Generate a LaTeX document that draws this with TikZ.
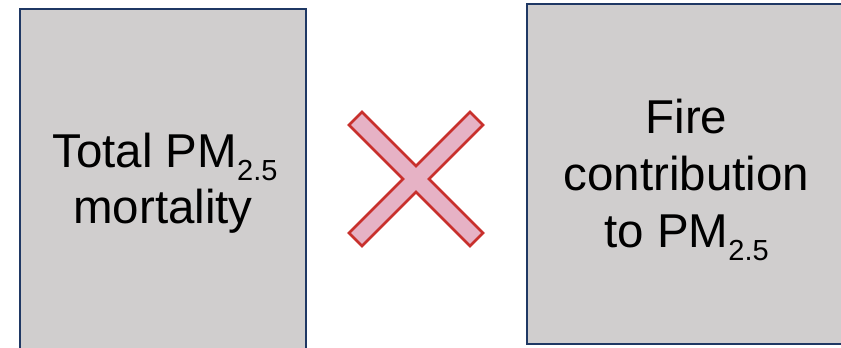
\documentclass[tikz,border=0pt]{standalone}
\usepackage{fontspec}
\setmainfont{Liberation Sans}
\definecolor{boxfill}{HTML}{D0CECE}
\definecolor{boxline}{HTML}{1F3864}
\definecolor{crossfill}{HTML}{E6B2C5}
\definecolor{crossline}{HTML}{C8302C}
% PM with a lowered, smaller "2.5"
\newcommand{\pmtwofive}{PM{\fontsize{29}{29}\selectfont\raisebox{-13pt}{2.5}}}
\begin{document}
\begin{tikzpicture}[x=1pt,y=-1pt,
  panel/.style={draw=boxline, line width=2.5pt, fill=boxfill, inner sep=0pt},
  txt/.style={anchor=base, inner sep=0pt, font=\fontsize{47.5}{57}\selectfont},
  crossmark/.style={draw=crossline, fill=crossfill, line width=2.5pt, line join=miter}]
\useasboundingbox (0,0) rectangle (841,348);
\clip (0,0) rectangle (841,348);
% left panel (runs past the bottom edge)
\node[panel, minimum width=286pt, minimum height=343pt] (total) at (163,180.5) {};
\node[txt] (totalA) at (165,167) {Total \pmtwofive};
\node[txt] (totalB) at (163,223) {mortality};
% right panel (runs past the right edge)
\node[panel, minimum width=319pt, minimum height=340pt] (fire) at (686.5,174) {};
\node[txt] (fireA) at (686.5,133) {Fire};
\node[txt] (fireB) at (686.5,190) {contribution};
\node[txt] (fireC) at (686.5,247) {to \pmtwofive};
% multiplication sign between the panels
\draw[crossmark] (362,112) -- (416,166) -- (470,112) -- (483,125) -- (429,179)
  -- (483,233) -- (470,246) -- (416,192) -- (362,246) -- (349,233)
  -- (403,179) -- (349,125) -- cycle;
\end{tikzpicture}
\end{document}
